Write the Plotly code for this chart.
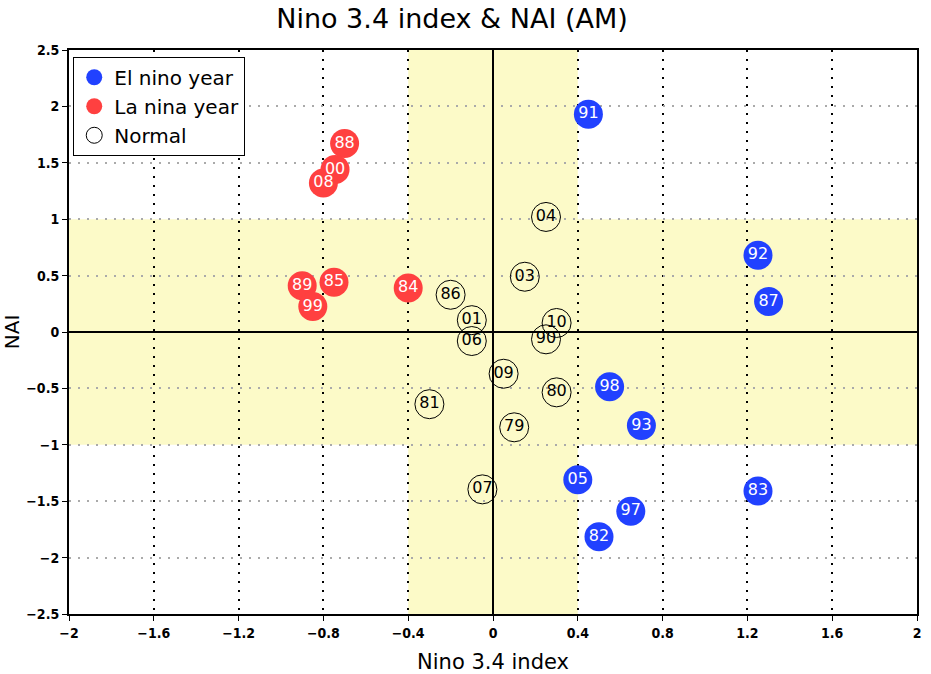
import plotly.graph_objects as go

# ---- data ----
el_labels = ["91", "92", "87", "98", "93", "05", "97", "82", "83"]
el_x = [0.45, 1.25, 1.30, 0.55, 0.70, 0.40, 0.65, 0.50, 1.25]
el_y = [1.93, 0.68, 0.27, -0.485, -0.83, -1.31, -1.59, -1.815, -1.41]

la_labels = ["88", "00", "08", "89", "85", "99", "84"]
la_x = [-0.70, -0.745, -0.80, -0.90, -0.75, -0.85, -0.40]
la_y = [1.67, 1.44, 1.32, 0.41, 0.44, 0.225, 0.39]

no_labels = ["04", "03", "86", "01", "10", "06", "90", "09", "80", "81", "79", "07"]
no_x = [0.25, 0.15, -0.20, -0.10, 0.30, -0.10, 0.25, 0.05, 0.30, -0.30, 0.10, -0.05]
no_y = [1.02, 0.49, 0.33, 0.105, 0.08, -0.08, -0.065, -0.37, -0.535, -0.64, -0.845, -1.395]

x_ticks = [-2, -1.6, -1.2, -0.8, -0.4, 0, 0.4, 0.8, 1.2, 1.6, 2]
x_ticktext = ["\u22122", "\u22121.6", "\u22121.2", "\u22120.8", "\u22120.4", "0", "0.4", "0.8", "1.2", "1.6", "2"]
y_ticks = [-2.5, -2, -1.5, -1, -0.5, 0, 0.5, 1, 1.5, 2, 2.5]
y_ticktext = ["\u22122.5", "\u22122", "\u22121.5", "\u22121", "\u22120.5", "0", "0.5", "1", "1.5", "2", "2.5"]

BLUE = "#2141FF"
RED = "#FF4040"
BAND = "#FCFAC8"
FONT = "DejaVu Sans"
TICKFONT = "DejaVu Sans Condensed"

fig = go.Figure()

fig.add_trace(go.Scatter(
    x=el_x, y=el_y, text=el_labels, mode="markers+text", name="El nino year",
    marker=dict(size=29, color=BLUE, line=dict(width=0)),
    textposition="middle center",
    textfont=dict(family=FONT, size=16, color="white"),
))
fig.add_trace(go.Scatter(
    x=la_x, y=la_y, text=la_labels, mode="markers+text", name="La nina year",
    marker=dict(size=29, color=RED, line=dict(width=0)),
    textposition="middle center",
    textfont=dict(family=FONT, size=16, color="white"),
))
fig.add_trace(go.Scatter(
    x=no_x, y=no_y, text=no_labels, mode="markers+text", name="Normal",
    marker=dict(size=29, color="rgba(0,0,0,0)", line=dict(width=1, color="black")),
    textposition="middle center",
    textfont=dict(family=FONT, size=16, color="black"),
))

# yellow bands
fig.add_shape(type="rect", xref="paper", yref="y", x0=0, x1=1, y0=-1, y1=1,
              fillcolor=BAND, line=dict(width=0), layer="below")
fig.add_shape(type="rect", xref="x", yref="paper", x0=-0.4, x1=0.4, y0=0, y1=1,
              fillcolor=BAND, line=dict(width=0), layer="below")

fig.update_layout(
    width=931, height=674,
    margin=dict(l=69, r=14, t=50, b=60, autoexpand=False),
    paper_bgcolor="white", plot_bgcolor="white",
    title=dict(text="Nino 3.4 index & NAI (AM)", xref="container", x=0.4855, xanchor="center",
               yref="container", y=0.973, yanchor="middle",
               font=dict(family=FONT, size=27, color="black")),
    legend=dict(x=0.005, y=0.988, xanchor="left", yanchor="top",
                bgcolor="white", bordercolor="black", borderwidth=1,
                font=dict(family=FONT, size=20, color="black"),
                itemsizing="trace", tracegroupgap=0),
    showlegend=True,
)

fig.update_xaxes(
    range=[-2, 2], tickvals=x_ticks, ticktext=x_ticktext, automargin=False,
    showgrid=True, gridcolor="black", griddash="2px,7px", gridwidth=1.5,
    zeroline=True, zerolinecolor="black", zerolinewidth=1.5,
    showline=True, linecolor="black", linewidth=2, mirror=True,
    ticks="outside", ticklen=5, tickcolor="black",
    tickfont=dict(family=TICKFONT, size=14, color="black", weight="bold"),
    title=dict(text="Nino 3.4 index", font=dict(family=FONT, size=21, color="black"), standoff=20),
)
fig.update_yaxes(
    range=[-2.5, 2.5], tickvals=y_ticks, ticktext=y_ticktext, automargin=False,
    showgrid=True, gridcolor="#AAAAAA", griddash="2px,7px", gridwidth=1.5,
    zeroline=True, zerolinecolor="black", zerolinewidth=1.5,
    showline=True, linecolor="black", linewidth=2, mirror=True,
    ticks="outside", ticklen=5, tickcolor="black",
    tickfont=dict(family=TICKFONT, size=14, color="black", weight="bold"),
    title=dict(text="NAI", font=dict(family=FONT, size=20, color="black"), standoff=4),
)

fig.write_html("out.html", config={"displayModeBar": False},
               post_script="document.body.style.margin='0px';")
